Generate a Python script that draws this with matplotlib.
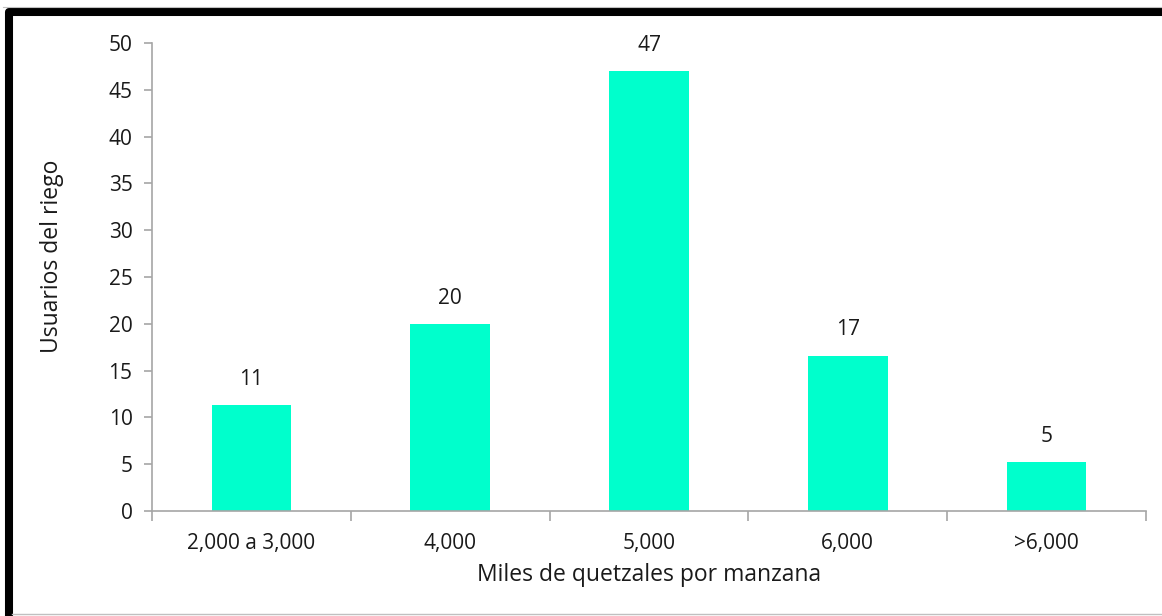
import matplotlib
matplotlib.use("Agg")
import matplotlib.pyplot as plt
from matplotlib.lines import Line2D

categories = ["2,000 a 3,000", "4,000", "5,000", "6,000", ">6,000"]
usuarios = [11.3, 20.0, 47.0, 16.6, 5.2]
y_ticks = [0, 5, 10, 15, 20, 25, 30, 35, 40, 45, 50]

plt.rcParams["font.family"] = ["Open Sans", "DejaVu Sans"]

W, H = 1162, 616
fig = plt.figure(figsize=(W / 100, H / 100), dpi=100)
fig.patch.set_facecolor("white")

# Heavy black frame: left and top edges, running off the page to the right and bottom
fig.lines.append(Line2D([8.5 / W, 8.5 / W, 1.05], [-0.05, 1 - 11.5 / H, 1 - 11.5 / H],
                        transform=fig.transFigure, color="black", linewidth=5.8,
                        solid_joinstyle="round", solid_capstyle="butt"))
fig.lines.append(Line2D([3 / W, 1], [1 - 6.5 / H, 1 - 6.5 / H], transform=fig.transFigure,
                        color="#c0c0c0", linewidth=0.8))
fig.lines.append(Line2D([12 / W, 1], [2 / H, 2 / H], transform=fig.transFigure,
                        color="#c0c0c0", linewidth=1.0))

ax = fig.add_axes([152 / W, 1 - 511 / H, (1146 - 152) / W, (511 - 43) / H])
x = range(len(categories))
bars = ax.bar(x, usuarios, width=0.4, color="#00FFCC", zorder=2)

for xi, v in zip(x, usuarios):
    ax.annotate(f"{v:.0f}", (xi, v), xytext=(0, 18.5), textcoords="offset points",
                ha="center", va="center", fontsize=15, color="#1a1a1a")

ax.set_xlim(-0.5, len(categories) - 0.5)
ax.set_ylim(0, 50)
ax.set_yticks(y_ticks)
ax.set_xticks([i - 0.5 for i in range(len(categories) + 1)])
ax.set_xticklabels([])
ax.set_xticks(list(x), minor=True)
ax.set_xticklabels(categories, minor=True)

for s in ["top", "right"]:
    ax.spines[s].set_visible(False)
for s in ["left", "bottom"]:
    ax.spines[s].set_color("#a6a6a6")
    ax.spines[s].set_linewidth(1.2)

ax.tick_params(axis="y", direction="out", length=6, color="#a6a6a6", width=1.2,
               labelsize=15, labelcolor="#1a1a1a", pad=8)
ax.tick_params(axis="x", which="major", direction="out", length=7, color="#a6a6a6",
               width=1.2)
ax.tick_params(axis="x", which="minor", length=0, labelsize=15,
               labelcolor="#1a1a1a", pad=16)

ax.set_xlabel("Miles de quetzales por manzana", fontsize=16.5, color="#1a1a1a",
              labelpad=6)
ax.set_ylabel("Usuarios del riego", fontsize=16.5, color="#1a1a1a", labelpad=32)
ax.yaxis.label.set_y(0.545)

fig.savefig("out.png", dpi=100, facecolor="white")
